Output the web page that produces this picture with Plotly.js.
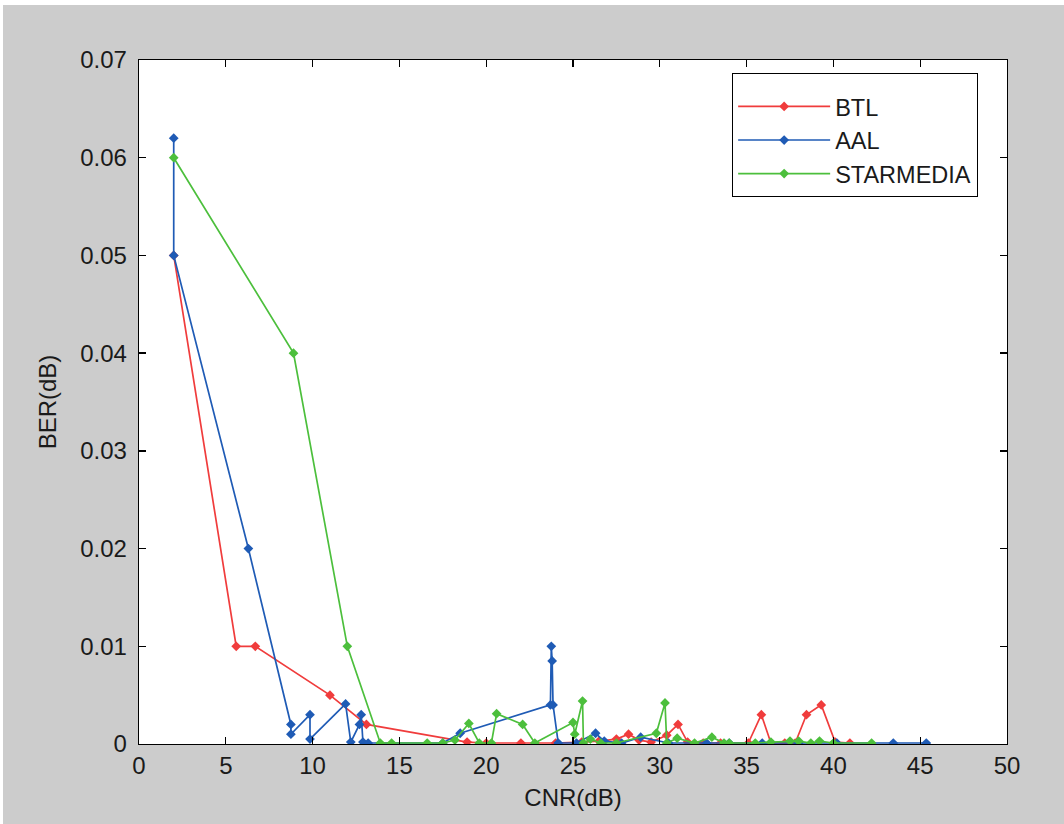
<!DOCTYPE html>
<html>
<head>
<meta charset="utf-8">
<script src="https://cdn.plot.ly/plotly-3.0.1.min.js"></script>
<style>
  html, body { margin: 0; padding: 0; background: #ffffff; width: 1064px; height: 824px; overflow: hidden; }
  #chart { position: absolute; left: 3px; top: 5px; width: 1061px; height: 819px; }
</style>
</head>
<body>
<div id="chart"></div>
<script>
// ---- data ----
const btlX = [2, 5.6, 6.7, 11, 13.1, 18.9, 20, 22, 24, 25.5, 26.5, 27.5, 28.2, 28.8, 29.5, 30.4, 31.05, 31.6, 32.5, 33.5, 35.1, 35.85, 36.4, 37.2, 37.8, 38.45, 39.3, 40.1, 40.95];
const btlY = [0.05, 0.01, 0.01, 0.005, 0.002, 0.0002, 0.0001, 0.0001, 0.0001, 0.0002, 0.0003, 0.0005, 0.001, 0.0004, 0.0002, 0.0009, 0.002, 0.0002, 0.0001, 0.0001, 0.0001, 0.003, 0.0001, 0.0001, 0.0001, 0.003, 0.004, 0.0002, 0.0001];

const aalX = [2, 2, 6.3, 8.75, 8.75, 9.85, 9.85, 11.9, 12.2, 12.7, 12.8, 12.9, 13.2, 17.5, 18.5, 23.7, 23.75, 23.8, 23.85, 24.15, 25.2, 26.3, 26.8, 27.8, 28.9, 30.5, 32.7, 34.0, 35.9, 38.0, 40.2, 43.45, 45.35];
const aalY = [0.062, 0.05, 0.02, 0.002, 0.001, 0.003, 0.0005, 0.0041, 0.0002, 0.002, 0.003, 0.0002, 0.0001, 0.0001, 0.0011, 0.004, 0.01, 0.0085, 0.004, 0.0001, 0.0001, 0.0011, 0.0003, 0.0001, 0.0007, 0.0001, 0.0001, 0.0001, 0.0001, 0.0001, 0.0001, 0.0001, 0.0001];

const starX = [2, 8.9, 12.0, 13.9, 14.55, 16.6, 17.5, 18.2, 19.0, 19.6, 20.3, 20.6, 22.1, 22.8, 25.0, 25.1, 25.55, 25.6, 26.0, 26.6, 27.5, 29.8, 30.3, 30.4, 31.0, 32.0, 33.0, 33.7, 34.0, 35.5, 36.4, 37.5, 38.0, 38.7, 39.2, 40.0, 42.2];
const starY = [0.06, 0.04, 0.01, 0.0001, 0.0001, 0.0001, 0.0001, 0.0004, 0.0021, 0.0001, 0.0001, 0.0031, 0.002, 0.0001, 0.0022, 0.001, 0.0044, 0.0001, 0.0005, 0.0001, 0.0001, 0.0011, 0.0042, 0.0001, 0.0006, 0.0001, 0.0007, 0.0001, 0.0001, 0.0001, 0.0002, 0.0003, 0.0003, 0.0001, 0.0003, 0.0001, 0.0001];

const seriesNames = ['BTL', 'AAL', 'STARMEDIA'];
const xTicks = [0, 5, 10, 15, 20, 25, 30, 35, 40, 45, 50];
const yTicks = [0, 0.01, 0.02, 0.03, 0.04, 0.05, 0.06, 0.07];
const yTickText = ['0', '0.01', '0.02', '0.03', '0.04', '0.05', '0.06', '0.07'];

// ---- styling ----
const colors = ['#f03c3c', '#1f5bb5', '#4cbf3c'];
const font = 'Liberation Sans, Arial, sans-serif';

function mk(x, y, i) {
  return {
    x: x, y: y, name: seriesNames[i], type: 'scatter', mode: 'lines+markers',
    line: { color: colors[i], width: 1.7 },
    marker: { symbol: 'diamond', size: 7.5, color: colors[i] }
  };
}

const data = [mk(btlX, btlY, 0), mk(aalX, aalY, 1), mk(starX, starY, 2)];

const axisCommon = {
  showgrid: false, zeroline: false, showline: true, linecolor: '#000', linewidth: 1.3,
  mirror: 'ticks', ticks: 'inside', ticklen: 7, tickcolor: '#000', tickwidth: 1.3,
  tickfont: { family: font, size: 24, color: '#1a1a1a' }
};

const layout = {
  width: 1061, height: 819,
  paper_bgcolor: '#cccccc', plot_bgcolor: '#ffffff',
  margin: { l: 136, r: 57, t: 55, b: 80 },
  showlegend: true,
  xaxis: Object.assign({}, axisCommon, {
    range: [0, 50], tickmode: 'array', tickvals: xTicks,
    title: { text: 'CNR(dB)', font: { family: font, size: 24, color: '#1a1a1a' }, standoff: 11 }
  }),
  yaxis: Object.assign({}, axisCommon, {
    range: [0, 0.07], tickmode: 'array', tickvals: yTicks, ticktext: yTickText,
    ticklabelstandoff: 6,
    title: { text: 'BER(dB)', font: { family: font, size: 24, color: '#1a1a1a' }, standoff: 16 }
  }),
  legend: {
    x: 0.683, y: 0.981, xanchor: 'left', yanchor: 'top',
    bgcolor: '#ffffff', bordercolor: '#000', borderwidth: 1.3,
    font: { family: font, size: 23.5, color: '#1a1a1a' },
    title: { text: ' ', font: { family: font, size: 8 } },
    itemwidth: 92, tracegroupgap: 0,
    entrywidth: 160, entrywidthmode: 'pixels'
  }
};

Plotly.newPlot('chart', data, layout, { displayModeBar: false, staticPlot: true });
</script>
</body>
</html>
